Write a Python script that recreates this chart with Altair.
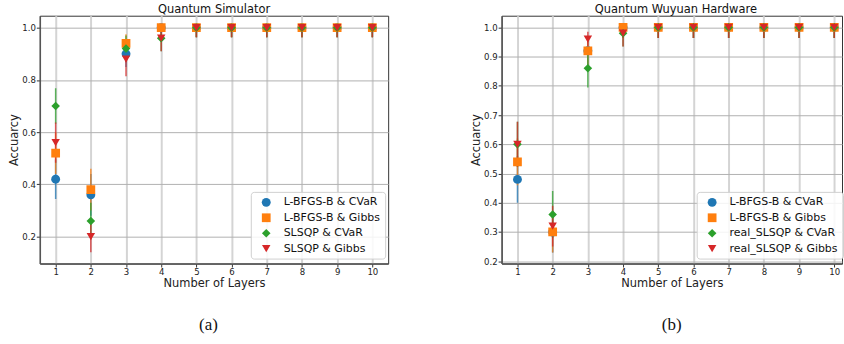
import altair as alt
import pandas as pd

layers = list(range(1, 11))

sim_series = ["L-BFGS-B & CVaR", "L-BFGS-B & Gibbs", "SLSQP & CVaR", "SLSQP & Gibbs"]
hw_series = ["L-BFGS-B & CVaR", "L-BFGS-B & Gibbs", "real_SLSQP & CVaR", "real_SLSQP & Gibbs"]

# Quantum Simulator: mean accuracy per layer
sim_lbfgs_cvar = [0.42, 0.36, 0.90, 1.00, 1.0, 1.0, 1.0, 1.0, 1.0, 1.0]
sim_lbfgs_gibbs = [0.52, 0.38, 0.94, 1.00, 1.0, 1.0, 1.0, 1.0, 1.0, 1.0]
sim_slsqp_cvar = [0.70, 0.26, 0.92, 0.96, 1.0, 1.0, 1.0, 1.0, 1.0, 1.0]
sim_slsqp_gibbs = [0.56, 0.20, 0.88, 0.96, 1.0, 1.0, 1.0, 1.0, 1.0, 1.0]
# Quantum Simulator: error (std)
sim_err_lbfgs_cvar = [0.076, 0.08, 0.05, 0.04, 0.036, 0.036, 0.036, 0.036, 0.036, 0.036]
sim_err_lbfgs_gibbs = [0.08, 0.08, 0.035, 0.036, 0.036, 0.036, 0.036, 0.036, 0.036, 0.036]
sim_err_slsqp_cvar = [0.068, 0.07, 0.05, 0.05, 0.036, 0.036, 0.036, 0.036, 0.036, 0.036]
sim_err_slsqp_gibbs = [0.077, 0.06, 0.066, 0.05, 0.036, 0.036, 0.036, 0.036, 0.036, 0.036]

# Quantum Wuyuan Hardware: mean accuracy per layer
hw_lbfgs_cvar = [0.48, 0.30, 0.92, 1.00, 1.0, 1.0, 1.0, 1.0, 1.0, 1.0]
hw_lbfgs_gibbs = [0.54, 0.30, 0.92, 1.00, 1.0, 1.0, 1.0, 1.0, 1.0, 1.0]
hw_slsqp_cvar = [0.60, 0.36, 0.86, 0.98, 1.0, 1.0, 1.0, 1.0, 1.0, 1.0]
hw_slsqp_gibbs = [0.60, 0.32, 0.96, 0.98, 1.0, 1.0, 1.0, 1.0, 1.0, 1.0]
# Quantum Wuyuan Hardware: error (std)
hw_err_lbfgs_cvar = [0.08, 0.07, 0.05, 0.036, 0.036, 0.036, 0.036, 0.036, 0.036, 0.036]
hw_err_lbfgs_gibbs = [0.08, 0.07, 0.05, 0.036, 0.036, 0.036, 0.036, 0.036, 0.036, 0.036]
hw_err_slsqp_cvar = [0.077, 0.08, 0.066, 0.045, 0.036, 0.036, 0.036, 0.036, 0.036, 0.036]
hw_err_slsqp_gibbs = [0.077, 0.07, 0.025, 0.045, 0.036, 0.036, 0.036, 0.036, 0.036, 0.036]

sim_y_ticks = [0.2, 0.4, 0.6, 0.8, 1.0]
hw_y_ticks = [0.2, 0.3, 0.4, 0.5, 0.6, 0.7, 0.8, 0.9, 1.0]

colors = ["#1f77b4", "#ff7f0e", "#2ca02c", "#d62728"]
shapes = ["circle", "square", "diamond", "triangle-down"]
sizes = [80, 72, 140, 100]

FONT = "DejaVu Sans"


def make_df(series, means, errs):
    rows = []
    for k, (name, m, e) in enumerate(zip(series, means, errs)):
        for L, v, s in zip(layers, m, e):
            rows.append({"layer": L, "series": name, "acc": v,
                         "lo": v - s, "hi": min(1.0, v + s), "ord": k})
    return pd.DataFrame(rows)


sim_df = make_df(sim_series,
                 [sim_lbfgs_cvar, sim_lbfgs_gibbs, sim_slsqp_cvar, sim_slsqp_gibbs],
                 [sim_err_lbfgs_cvar, sim_err_lbfgs_gibbs, sim_err_slsqp_cvar, sim_err_slsqp_gibbs])
hw_df = make_df(hw_series,
                [hw_lbfgs_cvar, hw_lbfgs_gibbs, hw_slsqp_cvar, hw_slsqp_gibbs],
                [hw_err_lbfgs_cvar, hw_err_lbfgs_gibbs, hw_err_slsqp_cvar, hw_err_slsqp_gibbs])


def panel(df, series, title, ydom, yticks, width, xmax, legx, title_dx):
    xs = alt.Scale(domain=[0.55, xmax], nice=False, zero=False)
    ys = alt.Scale(domain=ydom, nice=False, zero=False)
    xax = alt.Axis(values=layers, format="d", title="Number of Layers",
                   gridColor="#d4d4d4", gridWidth=2, labelPadding=1, titlePadding=1)
    yax = alt.Axis(values=yticks, format=".1f", title="Accuarcy",
                   gridColor="#b0b0b0", gridWidth=1, labelPadding=1, titlePadding=2)
    cscale = alt.Scale(domain=series, range=colors)
    sscale = alt.Scale(domain=series, range=shapes)
    legend = alt.Legend(title=None, orient="none", legendX=legx, legendY=177,
                        labelFont=FONT, labelFontSize=11, labelColor="#111",
                        symbolSize=72, symbolStrokeWidth=0, symbolOpacity=1,
                        padding=5, rowPadding=3.5,
                        labelOffset=12, symbolOffset=5,
                        fillColor="rgba(255,255,255,0.85)", strokeColor="#d0d0d0",
                        cornerRadius=3)
    color = alt.Color("series:N", scale=cscale, legend=legend)
    rules = alt.Chart(df).mark_rule(strokeWidth=1.5, opacity=0.75, clip=True).encode(
        x=alt.X("layer:Q", scale=xs, axis=xax),
        y=alt.Y("lo:Q", scale=ys, axis=yax),
        y2="hi:Q",
        color=color,
    )
    pts = alt.Chart(df).mark_point(filled=True, opacity=1, clip=True).encode(
        x=alt.X("layer:Q", scale=xs, axis=xax),
        y=alt.Y("acc:Q", scale=ys, axis=yax),
        color=color,
        shape=alt.Shape("series:N", scale=sscale, legend=legend),
        size=alt.Size("series:N", scale=alt.Scale(domain=series, range=sizes), legend=None),
        order=alt.Order("ord:Q"),
    )
    return alt.layer(rules, pts).properties(
        width=width, height=249,
        title=alt.TitleParams(title, font=FONT, fontSize=11.5, fontWeight="normal",
                              color="#111", offset=0, anchor="middle", dx=title_dx),
    )


left = panel(sim_df, sim_series, "Quantum Simulator", [0.097, 1.046], sim_y_ticks,
             350, 10.45, 212, 0)
right = panel(hw_df, hw_series, "Quantum Wuyuan Hardware", [0.192, 1.04], hw_y_ticks,
              342, 10.22, 196, 4)


def captioned(ch, text, dx):
    return alt.vconcat(ch).properties(
        title=alt.TitleParams(text, orient="bottom", anchor="middle", font="Liberation Serif",
                              fontSize=17, fontWeight="normal", color="#111", offset=28, dx=dx)
    )


chart = alt.hconcat(captioned(left, "(a)", 10), captioned(right, "(b)", 15), spacing=81).resolve_scale(
    color="independent", shape="independent", size="independent"
).resolve_legend(color="independent", shape="independent").properties(
    padding={"left": 8, "top": 3, "right": 0, "bottom": 0},
    background="white",
).configure_view(stroke="#333", strokeWidth=1).configure_axis(
    labelFont=FONT, titleFont=FONT, labelFontSize=8.6, titleFontSize=11.5,
    titleFontWeight="normal", labelColor="#222", titleColor="#222",
    tickColor="#333", tickSize=3.5, domainColor="#555", domainWidth=1.5,
).configure_legend(labelLimit=200)

chart.save("out.html", embed_options={"renderer": "svg", "actions": False})
